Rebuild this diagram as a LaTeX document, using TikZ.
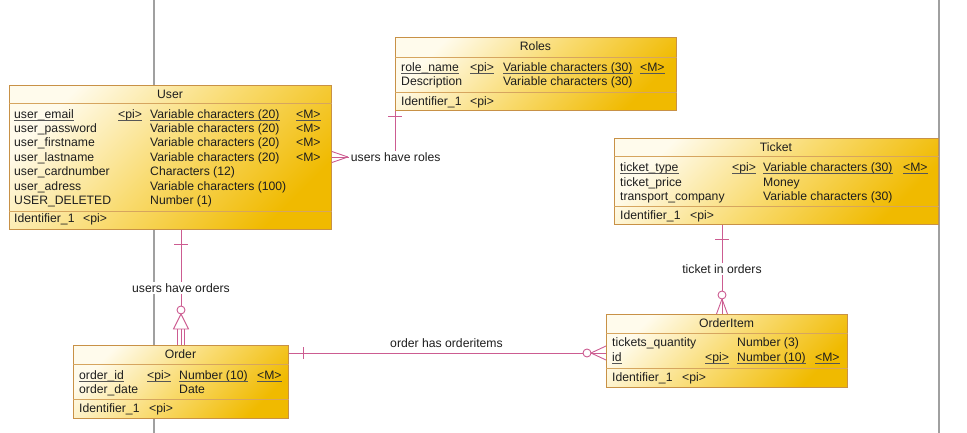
\documentclass[tikz,border=0pt]{standalone}
\usepackage{fontspec}
\setmainfont{Liberation Sans}
\usetikzlibrary{calc}

\definecolor{entlight}{RGB}{255,251,236}
\definecolor{entmid}{RGB}{249,219,112}
\definecolor{entdark}{RGB}{240,186,0}
\definecolor{entline}{RGB}{200,145,70}
\definecolor{entsep}{RGB}{214,165,95}
\definecolor{relline}{RGB}{204,92,145}
\definecolor{guide}{RGB}{160,160,160}
\definecolor{ink}{RGB}{30,30,30}

\tikzset{
  entity/.style={draw=entline, line width=0.9pt, rectangle, inner sep=0pt,
    anchor=north west, top color=entlight, bottom color=entdark,
    middle color=entmid, shading angle=45},
  entsepline/.style={draw=entsep, line width=0.8pt},
  cell/.style={anchor=base west, inner sep=0pt, text=ink},
  etitle/.style={anchor=base, inner sep=0pt, text=ink},
  keyline/.style={draw=ink!75, line width=0.6pt},
  rel/.style={draw=relline, line width=0.9pt},
  rellabel/.style={anchor=base, fill=white, inner sep=1.5pt, text=ink},
  guideline/.style={draw=guide, line width=1.1pt},
}

% entity box with its two compartment separators
\newcommand\erbox[7]{%
  \node[entity, minimum width=#4pt, minimum height=#5pt] (#1) at (#2,#3) {};
  \draw[entsepline] ([yshift=-#6pt]#1.north west) -- ([yshift=-#6pt]#1.north east);
  \draw[entsepline] ([yshift=-#7pt]#1.north west) -- ([yshift=-#7pt]#1.north east);
}
\newcommand\ercell[4]{\node[cell] (#1) at (#2,#3) {#4};}
\newcommand\erkey[4]{\node[cell] (#1) at (#2,#3) {#4};
  \draw[keyline] ([yshift=-1.8pt]#1.base west) -- ([yshift=-1.8pt]#1.base east);}

\begin{document}
\begin{tikzpicture}[x=1pt, y=-1pt, font=\fontsize{12.2}{14}\selectfont]
\useasboundingbox (0,0) rectangle (967,433);

% page guide lines
\coordinate (gA1) at (154,0);   \coordinate (gA2) at (154,433);
\coordinate (gB1) at (939,0);   \coordinate (gB2) at (939,433);
\draw[guideline] (gA1) -- (gA2);
\draw[guideline] (gB1) -- (gB2);

% ---------------- entities ----------------
\erbox{user}{9}{85}{322}{144}{18}{126}
\erbox{roles}{395}{37}{281}{73}{20}{55}
\erbox{ticket}{614}{138}{324}{86}{18}{68}
\erbox{order}{73}{345}{215}{73}{19}{54}
\erbox{item}{606}{314}{241}{73}{19}{54}

% User
\node[etitle] (user-t) at (170,98.3) {User};
\erkey{u1n}{14}{118.3}{user\_email}
\erkey{u1p}{118}{118.3}{<pi>}
\erkey{u1t}{150}{118.3}{Variable characters (20)}
\erkey{u1m}{296}{118.3}{<M>}
\ercell{u2n}{14}{132.6}{user\_password}
\ercell{u2t}{150}{132.6}{Variable characters (20)}
\ercell{u2m}{296}{132.6}{<M>}
\ercell{u3n}{14}{147}{user\_firstname}
\ercell{u3t}{150}{147}{Variable characters (20)}
\ercell{u3m}{296}{147}{<M>}
\ercell{u4n}{14}{161.3}{user\_lastname}
\ercell{u4t}{150}{161.3}{Variable characters (20)}
\ercell{u4m}{296}{161.3}{<M>}
\ercell{u5n}{14}{175.6}{user\_cardnumber}
\ercell{u5t}{150}{175.6}{Characters (12)}
\ercell{u6n}{14}{190}{user\_adress}
\ercell{u6t}{150}{190}{Variable characters (100)}
\ercell{u7n}{14}{204.3}{USER\_DELETED}
\ercell{u7t}{150}{204.3}{Number (1)}
\ercell{uin}{14}{222.3}{Identifier\_1}
\ercell{uip}{83}{222.3}{<pi>}

% Roles
\node[etitle] (roles-t) at (535.5,50.3) {Roles};
\erkey{r1n}{401}{71.3}{role\_name}
\erkey{r1p}{470}{71.3}{<pi>}
\erkey{r1t}{503}{71.3}{Variable characters (30)}
\erkey{r1m}{640}{71.3}{<M>}
\ercell{r2n}{401}{85.3}{Description}
\ercell{r2t}{503}{85.3}{Variable characters (30)}
\ercell{rin}{401}{105.3}{Identifier\_1}
\ercell{rip}{470}{105.3}{<pi>}

% Ticket
\node[etitle] (ticket-t) at (776,151.3) {Ticket};
\erkey{t1n}{620}{171.3}{ticket\_type}
\erkey{t1p}{732}{171.3}{<pi>}
\erkey{t1t}{763}{171.3}{Variable characters (30)}
\erkey{t1m}{903}{171.3}{<M>}
\ercell{t2n}{620}{186.3}{ticket\_price}
\ercell{t2t}{763}{186.3}{Money}
\ercell{t3n}{620}{200.3}{transport\_company}
\ercell{t3t}{763}{200.3}{Variable characters (30)}
\ercell{tin}{620}{219.3}{Identifier\_1}
\ercell{tip}{690}{219.3}{<pi>}

% Order
\node[etitle] (order-t) at (180.5,358.3) {Order};
\erkey{o1n}{79}{379.3}{order\_id}
\erkey{o1p}{147}{379.3}{<pi>}
\erkey{o1t}{179}{379.3}{Number (10)}
\erkey{o1m}{257}{379.3}{<M>}
\ercell{o2n}{79}{393.3}{order\_date}
\ercell{o2t}{179}{393.3}{Date}
\ercell{oin}{79}{412.3}{Identifier\_1}
\ercell{oip}{149}{412.3}{<pi>}

% OrderItem
\node[etitle] (item-t) at (726.5,327.3) {OrderItem};
\ercell{i1n}{612}{346.3}{tickets\_quantity}
\ercell{i1t}{737}{346.3}{Number (3)}
\erkey{i2n}{612}{361.3}{id}
\erkey{i2p}{705}{361.3}{<pi>}
\erkey{i2t}{737}{361.3}{Number (10)}
\erkey{i2m}{815}{361.3}{<M>}
\ercell{iin}{612}{381.3}{Identifier\_1}
\ercell{iip}{682}{381.3}{<pi>}

% ---------------- relationships ----------------
% users have orders (User 1 -- 0..n Order, dependent)
\coordinate (uoX) at (181,0);
\coordinate (uoA) at (user.south -| uoX);
\coordinate (uoB) at (order.north -| uoX);
\draw[rel] (uoA) -- ($(uoB)+(0,-39)$);
\draw[rel] ($(uoA)+(-7,15)$) -- ($(uoA)+(7,15)$);
\draw[rel] ($(uoB)+(0,-35)$) circle[radius=4pt];
\draw[rel] ($(uoB)+(0,-31)$) -- ($(uoB)+(-7.5,-16)$) -- ($(uoB)+(7.5,-16)$) -- cycle;
\draw[rel] ($(uoB)+(-3.3,-16)$) -- ($(uoB)+(-3.3,0)$);
\draw[rel] ($(uoB)+(0,-16)$) -- (uoB);
\draw[rel] ($(uoB)+(3.3,-16)$) -- ($(uoB)+(3.3,0)$);
\node[rellabel] (uo-l) at (181,292.3) {users have orders};

% ticket in orders (Ticket 1 -- 0..n OrderItem)
\coordinate (toX) at (722,0);
\coordinate (toA) at (ticket.south -| toX);
\coordinate (toB) at (item.north -| toX);
\draw[rel] (toA) -- ($(toB)+(0,-23)$);
\draw[rel] ($(toA)+(-7,15)$) -- ($(toA)+(7,15)$);
\draw[rel] ($(toB)+(0,-19)$) circle[radius=4pt];
\draw[rel] ($(toB)+(0,-15)$) -- ($(toB)+(-5.5,0)$);
\draw[rel] ($(toB)+(0,-15)$) -- (toB);
\draw[rel] ($(toB)+(0,-15)$) -- ($(toB)+(5.5,0)$);
\node[rellabel] (to-l) at (722,273.3) {ticket in orders};

% order has orderitems (Order 1 -- 0..n OrderItem)
\coordinate (ooY) at (0,353);
\coordinate (ooA) at (order.east |- ooY);
\coordinate (ooB) at (item.west |- ooY);
\draw[rel] (ooA) -- ($(ooB)+(-23,0)$);
\draw[rel] ($(ooA)+(15,-6)$) -- ($(ooA)+(15,6)$);
\draw[rel] ($(ooB)+(-19,0)$) circle[radius=4pt];
\draw[rel] ($(ooB)+(-15,0)$) -- ($(ooB)+(0,-7)$);
\draw[rel] ($(ooB)+(-15,0)$) -- (ooB);
\draw[rel] ($(ooB)+(-15,0)$) -- ($(ooB)+(0,7)$);
\node[rellabel] (oo-l) at (446.5,347.3) {order has orderitems};

% users have roles (Roles 1 -- n User)
\coordinate (urX) at (395,0);
\coordinate (urY) at (0,157);
\coordinate (urA) at (roles.south -| urX);
\coordinate (urC) at (urX |- urY);
\coordinate (urB) at (user.east |- urY);
\draw[rel] (urA) -- (urC) -- (urB);
\draw[rel] ($(urA)+(-7,6)$) -- ($(urA)+(7,6)$);
\draw[rel] ($(urB)+(16,0)$) -- ($(urB)+(0,-5.5)$);
\draw[rel] ($(urB)+(16,0)$) -- ($(urB)+(0,5.5)$);
\node[rellabel, anchor=base west] (ur-l) at (349.2,161.6) {users have roles};

\end{tikzpicture}
\end{document}
